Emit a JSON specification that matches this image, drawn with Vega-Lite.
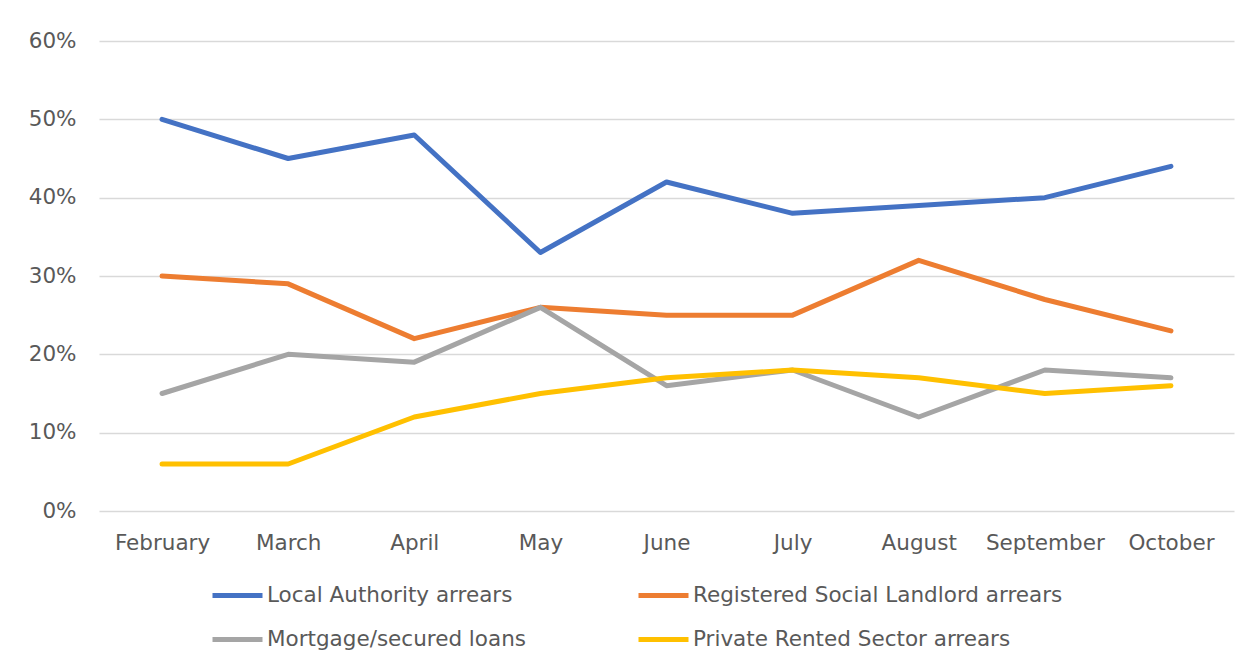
{
  "$schema": "https://vega.github.io/schema/vega-lite/v6.json",
  "width": 1135,
  "height": 470,
  "autosize": {"type": "none"},
  "padding": {"left": 99, "top": 41, "right": 13, "bottom": 153},
  "background": "white",
  "config": {
    "view": {"stroke": null},
    "font": "DejaVu Sans"
  },
  "data": {
    "values": [
      {"month": "February", "series": "Local Authority arrears", "value": 0.50},
      {"month": "March", "series": "Local Authority arrears", "value": 0.45},
      {"month": "April", "series": "Local Authority arrears", "value": 0.48},
      {"month": "May", "series": "Local Authority arrears", "value": 0.33},
      {"month": "June", "series": "Local Authority arrears", "value": 0.42},
      {"month": "July", "series": "Local Authority arrears", "value": 0.38},
      {"month": "August", "series": "Local Authority arrears", "value": 0.39},
      {"month": "September", "series": "Local Authority arrears", "value": 0.40},
      {"month": "October", "series": "Local Authority arrears", "value": 0.44},
      {"month": "February", "series": "Registered Social Landlord arrears", "value": 0.30},
      {"month": "March", "series": "Registered Social Landlord arrears", "value": 0.29},
      {"month": "April", "series": "Registered Social Landlord arrears", "value": 0.22},
      {"month": "May", "series": "Registered Social Landlord arrears", "value": 0.26},
      {"month": "June", "series": "Registered Social Landlord arrears", "value": 0.25},
      {"month": "July", "series": "Registered Social Landlord arrears", "value": 0.25},
      {"month": "August", "series": "Registered Social Landlord arrears", "value": 0.32},
      {"month": "September", "series": "Registered Social Landlord arrears", "value": 0.27},
      {"month": "October", "series": "Registered Social Landlord arrears", "value": 0.23},
      {"month": "February", "series": "Mortgage/secured loans", "value": 0.15},
      {"month": "March", "series": "Mortgage/secured loans", "value": 0.20},
      {"month": "April", "series": "Mortgage/secured loans", "value": 0.19},
      {"month": "May", "series": "Mortgage/secured loans", "value": 0.26},
      {"month": "June", "series": "Mortgage/secured loans", "value": 0.16},
      {"month": "July", "series": "Mortgage/secured loans", "value": 0.18},
      {"month": "August", "series": "Mortgage/secured loans", "value": 0.12},
      {"month": "September", "series": "Mortgage/secured loans", "value": 0.18},
      {"month": "October", "series": "Mortgage/secured loans", "value": 0.17},
      {"month": "February", "series": "Private Rented Sector arrears", "value": 0.06},
      {"month": "March", "series": "Private Rented Sector arrears", "value": 0.06},
      {"month": "April", "series": "Private Rented Sector arrears", "value": 0.12},
      {"month": "May", "series": "Private Rented Sector arrears", "value": 0.15},
      {"month": "June", "series": "Private Rented Sector arrears", "value": 0.17},
      {"month": "July", "series": "Private Rented Sector arrears", "value": 0.18},
      {"month": "August", "series": "Private Rented Sector arrears", "value": 0.17},
      {"month": "September", "series": "Private Rented Sector arrears", "value": 0.15},
      {"month": "October", "series": "Private Rented Sector arrears", "value": 0.16}
    ]
  },
  "mark": {"type": "line", "strokeWidth": 5, "strokeCap": "round", "strokeJoin": "round"},
  "encoding": {
    "x": {
      "field": "month",
      "type": "ordinal",
      "sort": ["February", "March", "April", "May", "June", "July", "August", "September", "October"],
      "scale": {"type": "point", "padding": 0.5},
      "axis": {
        "title": null,
        "labelAngle": 0,
        "labelFontSize": 21.5,
        "labelColor": "#595959",
        "labelPadding": 21,
        "ticks": false,
        "domain": false,
        "grid": false
      }
    },
    "y": {
      "field": "value",
      "type": "quantitative",
      "scale": {"domain": [0, 0.6]},
      "axis": {
        "title": null,
        "format": ".0%",
        "values": [0, 0.1, 0.2, 0.3, 0.4, 0.5, 0.6],
        "labelFontSize": 21.5,
        "labelColor": "#595959",
        "labelPadding": 23,
        "ticks": false,
        "domain": false,
        "gridColor": "#d9d9d9",
        "gridWidth": 1.5
      }
    },
    "color": {
      "field": "series",
      "type": "nominal",
      "sort": ["Local Authority arrears", "Registered Social Landlord arrears", "Mortgage/secured loans", "Private Rented Sector arrears"],
      "scale": {
        "domain": ["Local Authority arrears", "Registered Social Landlord arrears", "Mortgage/secured loans", "Private Rented Sector arrears"],
        "range": ["#4472C4", "#ED7D31", "#A5A5A5", "#FFC000"]
      },
      "legend": {
        "title": null,
        "orient": "none",
        "legendX": 111,
        "legendY": 527,
        "columns": 2,
        "direction": "horizontal",
        "symbolType": "stroke",
        "symbolSize": 2500,
        "symbolStrokeWidth": 5,
        "labelFontSize": 21.5,
        "labelColor": "#595959",
        "labelOffset": 2,
        "labelLimit": 500,
        "columnPadding": 102,
        "rowPadding": 6
      }
    }
  }
}
